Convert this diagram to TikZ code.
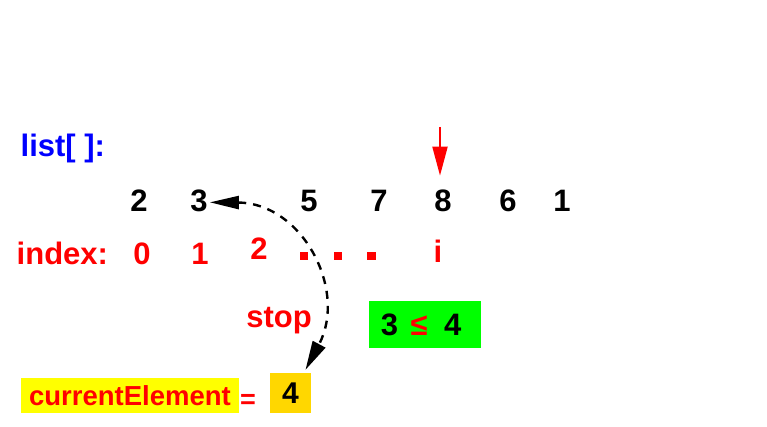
\documentclass[tikz,border=0pt]{standalone}
\usepackage{fontspec}
\setmainfont{Liberation Sans}
\usetikzlibrary{arrows.meta}
\definecolor{gboxc}{RGB}{0,255,0}
\definecolor{yboxc}{RGB}{255,255,0}
\definecolor{oboxc}{RGB}{255,215,0}
\begin{document}
\begin{tikzpicture}[x=1pt,y=-1pt,
  txt/.style={inner sep=0pt, font=\bfseries\fontsize{31}{37}\selectfont},
  num/.style={txt, anchor=base},
  dotsq/.style={fill=red, inner sep=0pt, minimum size=8.5pt},
  redarrow/.style={draw=red, line width=2pt, -{Triangle[length=29pt,width=15pt]}},
  dasharrow/.style={draw=black, line width=2.4pt, dash pattern=on 8pt off 7pt,
     {Triangle[length=29pt,width=13pt]}-{Triangle[length=29pt,width=14pt]}},
  gbox/.style={txt, fill=gboxc, minimum width=112pt, minimum height=47pt},
  ybox/.style={inner sep=0pt, fill=yboxc, minimum width=218pt, minimum height=35pt, text=red,
     font=\bfseries\fontsize{27.5}{33}\selectfont},
  obox/.style={inner sep=0pt, fill=oboxc, minimum width=41pt, minimum height=40pt,
     font=\bfseries\fontsize{30}{36}\selectfont}
]
\useasboundingbox (0,0) rectangle (767,427);
\fill[white] (0,0) rectangle (767,427);

\node[txt, text=blue, anchor=base west] (listlbl) at (20.5,157) {list[ ]:};

\node[num] (n2) at (139,212) {2};
\node[num] (n3) at (199,212) {3};
\node[num] (n5) at (309,212) {5};
\node[num] (n7) at (379,212) {7};
\node[num] (n8) at (443,212) {8};
\node[num] (n6) at (508,212) {6};
\node[num] (n1) at (562,212) {1};

\node[txt, text=red, anchor=base west] (idxlbl) at (16.5,265) {index:};
\node[num, text=red] (i0) at (142,265) {0};
\node[num, text=red] (i1) at (200,265) {1};
\node[num, text=red] (i2) at (259,260) {2};
\node[dotsq] (d1) at (304,256) {};
\node[dotsq] (d2) at (338,256) {};
\node[dotsq] (d3) at (371.5,256) {};
\node[num, text=red] (ii) at (438,262) {i};

\coordinate (atop) at (440,127);
\draw[redarrow] (atop) -- ([xshift=-3pt,yshift=14.5pt]n8.north);

\node[num, text=red] (stop) at (279,327) {stop};

\node[gbox] (cmp) at (425,324.5) {3\kern12.5pt{\color{red}≤}\kern16.5pt4\kern8pt};

\node[ybox] (curel) at (130,395.5) {currentElement};
\node[inner sep=0pt, anchor=base, text=red, font=\bfseries\fontsize{27}{33}\selectfont] (eq) at (248,408) {=};
\node[obox] (box4) at (290.5,393) {4};

\draw[dasharrow] ([xshift=2pt,yshift=-1pt]n3.east) .. controls (302,203) and (348,290) .. ([xshift=15pt,yshift=3pt]box4.north);
\end{tikzpicture}
\end{document}
